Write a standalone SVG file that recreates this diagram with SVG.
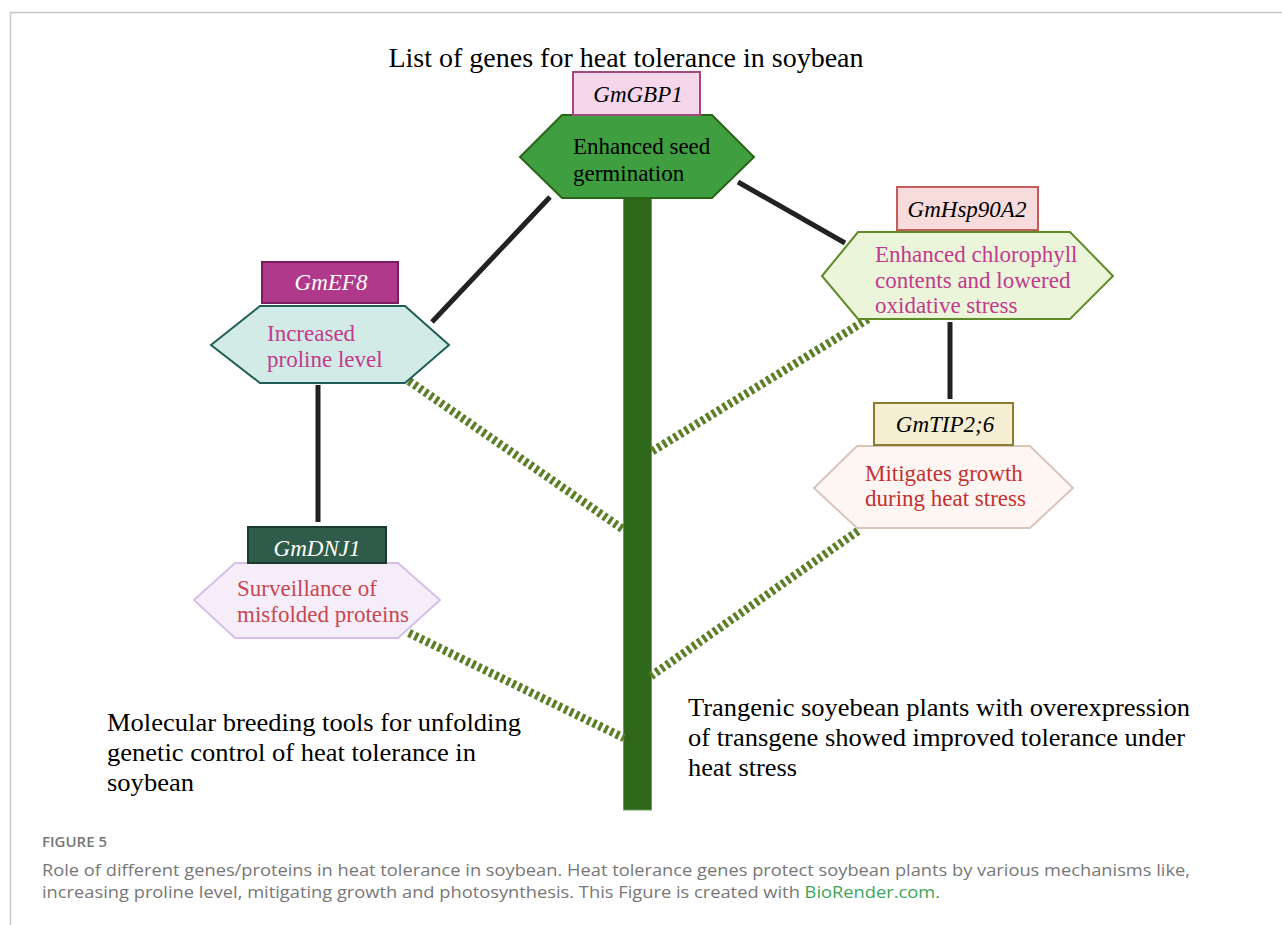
<svg xmlns="http://www.w3.org/2000/svg" width="1282" height="925" viewBox="0 0 1282 925">
<style>
.serif{font-family:"Liberation Serif","Times New Roman",serif;}
.title{font-size:28px;fill:#000;}
.cap{font-size:25px;fill:#000;}
.gene{font-size:23px;font-style:italic;text-anchor:middle;}
.node{font-size:23px;}
.link{stroke:#222;stroke-width:5;fill:none;}
.dash{stroke:#5b7e26;stroke-width:8.5;stroke-dasharray:3.4 3;fill:none;}
.fig{font-family:"Open Sans","Liberation Sans",sans-serif;fill:#777;}
</style>
<rect x="0" y="0" width="1282" height="925" fill="#fff"/>
<path d="M10.5,925 V12.5 H1282" fill="none" stroke="#c8c8c8" stroke-width="1.5"/>

<text class="serif title" x="626" y="67" text-anchor="middle">List of genes for heat tolerance in soybean</text>

<rect id="stem" x="623.5" y="196" width="28" height="614" fill="#30681b" stroke="#6f9a60" stroke-width="1"/>

<g id="connectors">
  <line class="link" x1="550" y1="197" x2="432" y2="322"/>
  <line class="link" x1="738" y1="182" x2="845" y2="243"/>
  <line class="link" x1="318" y1="385" x2="318" y2="522"/>
  <line class="link" x1="950" y1="322" x2="950" y2="399"/>
  <line class="dash" x1="409" y1="381" x2="624" y2="530"/>
  <line class="dash" x1="409" y1="633" x2="624" y2="738"/>
  <line class="dash" x1="868" y1="319" x2="651" y2="452"/>
  <line class="dash" x1="858" y1="531" x2="651" y2="676"/>
</g>

<g id="node-gbp1">
  <polygon points="520,157 562,115 712,115 754,157 712,198 562,198" fill="#3f9e3f" stroke="#2a6418" stroke-width="2"/>
  <rect x="573" y="72" width="127" height="43" fill="#f5d6ea" stroke="#a3487c" stroke-width="2"/>
  <text class="serif gene" x="638" y="102" fill="#000">GmGBP1</text>
  <text class="serif node" x="573" y="154" fill="#000">Enhanced seed</text>
  <text class="serif node" x="573" y="181" fill="#000">germination</text>
</g>

<g id="node-ef8">
  <polygon points="211,345 260,306 405,306 449,345 405,383 260,383" fill="#d3ebe6" stroke="#1f5e57" stroke-width="2"/>
  <rect x="262" y="262" width="136" height="41" fill="#b0398c" stroke="#7a1f5e" stroke-width="2"/>
  <text class="serif gene" x="331" y="290" fill="#fff">GmEF8</text>
  <text class="serif node" x="267" y="341" fill="#c23a8e">Increased</text>
  <text class="serif node" x="267" y="367" fill="#c23a8e">proline level</text>
</g>

<g id="node-dnj1">
  <polygon points="194,600 235,563 398,563 440,600 398,638 235,638" fill="#f5eefa" stroke="#d7bfe6" stroke-width="2"/>
  <rect x="248" y="527" width="138" height="36" fill="#2f5c4a" stroke="#1a3a2d" stroke-width="2"/>
  <text class="serif gene" x="317" y="556" fill="#fff">GmDNJ1</text>
  <text class="serif node" x="237" y="596" fill="#c8474f">Surveillance of</text>
  <text class="serif node" x="237" y="622" fill="#c8474f">misfolded proteins</text>
</g>

<g id="node-hsp90a2">
  <polygon points="822,276 858,232 1070,232 1113,276 1070,319 858,319" fill="#ebf5da" stroke="#5e8a2a" stroke-width="2"/>
  <rect x="897" y="187" width="141" height="43" fill="#f8dcdc" stroke="#c55c5c" stroke-width="2"/>
  <text class="serif gene" x="967" y="217" fill="#000">GmHsp90A2</text>
  <text class="serif node" x="875" y="262" fill="#c23a8e">Enhanced chlorophyll</text>
  <text class="serif node" x="875" y="288" fill="#c23a8e">contents and lowered</text>
  <text class="serif node" x="875" y="313" fill="#c23a8e">oxidative stress</text>
</g>

<g id="node-tip26">
  <polygon points="814,488 857,446 1030,446 1073,488 1030,528 857,528" fill="#fdf6f3" stroke="#d9c5bc" stroke-width="2"/>
  <rect x="874" y="403" width="139" height="42" fill="#f4efd2" stroke="#8c7c32" stroke-width="2"/>
  <text class="serif gene" x="945" y="432" fill="#000">GmTIP2;6</text>
  <text class="serif node" x="865" y="481" fill="#c62f2f">Mitigates growth</text>
  <text class="serif node" x="865" y="506" fill="#c62f2f">during heat stress</text>
</g>

<g id="captions">
  <text class="serif cap" x="107" y="731" textLength="414" lengthAdjust="spacingAndGlyphs">Molecular breeding tools for unfolding</text>
  <text class="serif cap" x="107" y="761" textLength="369" lengthAdjust="spacingAndGlyphs">genetic control of heat tolerance in</text>
  <text class="serif cap" x="107" y="791" textLength="87" lengthAdjust="spacingAndGlyphs">soybean</text>
  <text class="serif cap" x="688" y="716" textLength="502" lengthAdjust="spacingAndGlyphs">Trangenic soyebean plants with overexpression</text>
  <text class="serif cap" x="688" y="746" textLength="497" lengthAdjust="spacingAndGlyphs">of transgene showed improved tolerance under</text>
  <text class="serif cap" x="688" y="776" textLength="109" lengthAdjust="spacingAndGlyphs">heat stress</text>
</g>

<g id="figure-caption">
  <text class="fig" x="42" y="847" font-size="14" fill="#666" font-weight="600" textLength="65" lengthAdjust="spacingAndGlyphs">FIGURE 5</text>
  <text class="fig" x="42" y="876" font-size="17" textLength="1148" lengthAdjust="spacingAndGlyphs">Role of different genes/proteins in heat tolerance in soybean. Heat tolerance genes protect soybean plants by various mechanisms like,</text>
  <text class="fig" x="42" y="898" font-size="17" textLength="898" lengthAdjust="spacingAndGlyphs">increasing proline level, mitigating growth and photosynthesis. This Figure is created with <tspan fill="#3aa55a">BioRender.com.</tspan></text>
</g>
</svg>
